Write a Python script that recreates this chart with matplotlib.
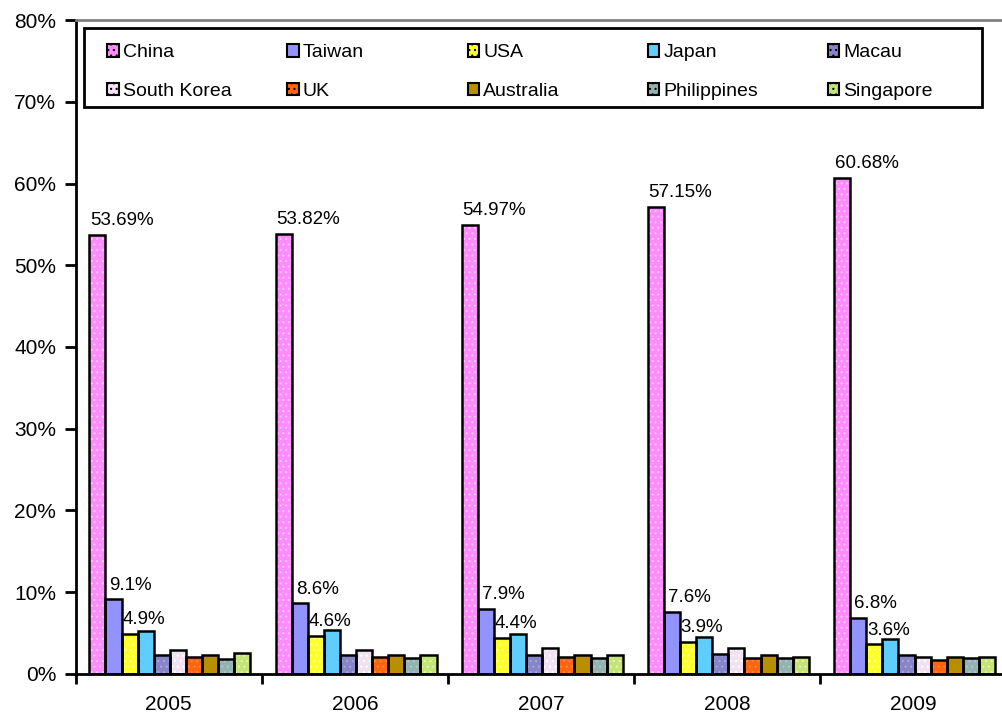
import numpy as np
import matplotlib
matplotlib.use("Agg")
import matplotlib.pyplot as plt
from matplotlib.patches import Rectangle
from matplotlib.legend import Legend

plt.rcParams["font.family"] = ["Liberation Sans", "DejaVu Sans"]
plt.rcParams["hatch.linewidth"] = 0.8

years = ["2005", "2006", "2007", "2008", "2009"]
countries = ["China", "Taiwan", "USA", "Japan", "Macau",
             "South Korea", "UK", "Australia", "Philippines", "Singapore"]

# share of visitors per year, in percent
china = [53.69, 53.82, 54.97, 57.15, 60.68]
taiwan = [9.1, 8.6, 7.9, 7.6, 6.8]
usa = [4.9, 4.6, 4.4, 3.9, 3.6]
japan = [5.2, 5.3, 4.8, 4.5, 4.2]
macau = [2.25, 2.3, 2.3, 2.45, 2.3]
south_korea = [2.85, 2.85, 3.1, 3.1, 2.05]
uk = [2.05, 2.05, 2.05, 1.95, 1.7]
australia = [2.3, 2.3, 2.3, 2.35, 2.1]
philippines = [1.75, 1.95, 1.95, 1.95, 1.95]
singapore = [2.5, 2.3, 2.3, 2.1, 2.05]

series = [china, taiwan, usa, japan, macau,
          south_korea, uk, australia, philippines, singapore]
labelled = ["China", "Taiwan", "USA"]

face = ["#ff8cff", "#9393ff", "#ffff2a", "#5fcdff", "#8585c8",
        "#f1e2f1", "#ff6510", "#b88f00", "#93b2b2", "#c4e47a"]
dots = ["#ffc8ff", "#b0b0ff", "#ffffa0", "#5fcdff", "#a8a8e0",
        "#ffffff", "#ff8840", "#b88f00", "#b0c8c8", "#e4f7a8"]
hatches = ["...", "", "...", "", "...", "...", "...", "", "...", "..."]

fig = plt.figure(figsize=(10.02, 7.19), dpi=100)
ax = fig.add_axes([0.0755, 0.063, 0.929, 0.909])

x = np.arange(len(years))
w = 0.0865
offsets = (np.arange(len(countries)) - (len(countries) - 1) / 2) * w

handles = []
for i, (name, vals) in enumerate(zip(countries, series)):
    pos = x + offsets[i] + 0.006
    ax.bar(pos, vals, w, color=face[i], edgecolor=dots[i], hatch=hatches[i],
           linewidth=0, zorder=2)
    ax.bar(pos, vals, w, facecolor="none", edgecolor="black",
           linewidth=1.8, zorder=3)
    handles.append(Rectangle((0, 0), 1, 1, facecolor=face[i], edgecolor="black",
                             hatch=hatches[i], linewidth=1.5))
    if name in labelled:
        dx = 3 if name == "Taiwan" else 0.5
        for xp, v in zip(pos, vals):
            ax.annotate(f"{v:g}%", (xp - w / 2, v), xytext=(dx, 7),
                        textcoords="offset points", ha="left", va="baseline",
                        fontsize=13.5, zorder=4)

ax.set_xlim(-0.5, 4.5)
ax.set_ylim(0, 80)
ax.set_yticks(np.arange(0, 81, 10))
ax.set_yticklabels([f"{t}%" for t in range(0, 81, 10)], fontsize=15)
ax.tick_params(axis="y", direction="out", length=8, width=2, pad=6)

ax.set_xticks(np.arange(-0.5, 5, 1))
ax.set_xticklabels([])
ax.set_xticks(x, minor=True)
ax.set_xticklabels(years, minor=True, fontsize=15)
ax.tick_params(axis="x", which="major", direction="out", length=7, width=2)
ax.tick_params(axis="x", which="minor", length=0, pad=15)

for side in ["left", "bottom"]:
    ax.spines[side].set_linewidth(2)
ax.spines["top"].set_color("#808080")
ax.spines["top"].set_linewidth(2)
ax.spines["right"].set_visible(False)

# legend: framed box with five evenly spaced columns
frame = Rectangle((0.0085, 0.867), 0.9655, 0.1208, transform=ax.transAxes,
                  facecolor="white", edgecolor="black", linewidth=2, zorder=5)
ax.add_patch(frame)
col_x = [0.034, 0.2275, 0.421, 0.6145, 0.808]
for c in range(5):
    leg = Legend(ax, [handles[c], handles[c + 5]], [countries[c], countries[c + 5]],
                 loc="upper left", bbox_to_anchor=(col_x[c], 0.963),
                 frameon=False, fontsize=14, handlelength=0.6, handleheight=0.6,
                 handletextpad=0.2, labelspacing=1.1, borderaxespad=0,
                 borderpad=0)
    leg.set_zorder(6)
    ax.add_artist(leg)

fig.savefig("out.png", dpi=100)
